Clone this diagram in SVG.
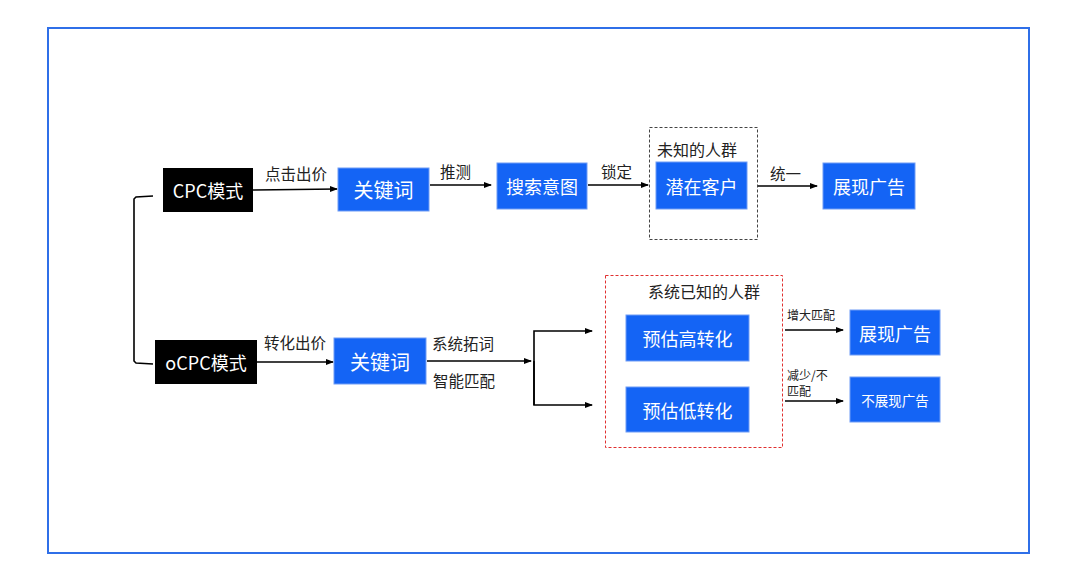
<svg xmlns="http://www.w3.org/2000/svg" width="1080" height="576" viewBox="0 0 1080 576">
<defs>
<marker id="ah" markerWidth="8" markerHeight="8" refX="7" refY="4" orient="auto" markerUnits="userSpaceOnUse">
<path d="M0,1 L8,4 L0,7 Z" fill="#000"/>
</marker>
<style>
text{font-family:"Microsoft YaHei","Noto Sans CJK SC","Noto Sans",sans-serif}
.blk{fill:#000}
.blu{fill:#1464f5;stroke:#6f9cf5;stroke-width:1}
.wt{fill:#fff;text-anchor:middle;dominant-baseline:central}
.lb{fill:#222;font-size:15.5px}
.gl{fill:#222;font-size:16px}
.sm{fill:#222;font-size:12px}
.ln{stroke:#000;stroke-width:1.6;fill:none}
.ar{stroke:#000;stroke-width:1.6;fill:none;marker-end:url(#ah)}
</style>
</defs>
<rect x="0" y="0" width="1080" height="576" fill="#fff"/>
<rect x="48" y="28" width="981" height="525" fill="none" stroke="#2f6fe8" stroke-width="2"/>

<g id="groupUnknown">
<rect x="649.5" y="127.5" width="108" height="112" fill="none" stroke="#444" stroke-width="1" stroke-dasharray="3,2"/>
<text x="657" y="156" class="gl">未知的人群</text>
</g>
<g id="groupKnown">
<rect x="605.5" y="275.5" width="177" height="172" fill="none" stroke="#e03030" stroke-width="1" stroke-dasharray="3,2"/>
<text x="648" y="298" class="gl">系统已知的人群</text>
</g>

<g id="connectors">
<path class="ln" d="M153,196 L136,197 L134,199 L134,361 L136,363 L153,364"/>
<path class="ar" d="M253,190 L337,189"/>
<text x="265" y="180" class="lb">点击出价</text>
<path class="ar" d="M430,185 L491,185"/>
<text x="440" y="178" class="lb">推测</text>
<path class="ar" d="M588,185 L648,185"/>
<text x="601" y="178" class="lb">锁定</text>
<path class="ar" d="M758,186 L817,186"/>
<text x="770" y="180" class="lb">统一</text>

<path class="ar" d="M257,362 L333,362"/>
<text x="264" y="349" class="lb">转化出价</text>
<path class="ar" d="M427,361 L531,361"/>
<text x="432" y="350" class="lb">系统拓词</text>
<text x="433" y="387" class="lb">智能匹配</text>
<path class="ar" d="M534,405 L534,331 L592,331"/>
<path class="ar" d="M534,361 L534,405 L592,405"/>
<path class="ar" d="M785,330 L843,330"/>
<text x="787" y="320" class="sm">增大匹配</text>
<path class="ar" d="M785,401 L843,401"/>
<text x="787" y="380" class="sm">减少/不</text>
<text x="787" y="396" class="sm">匹配</text>
</g>

<g id="cpc"><rect x="163" y="168" width="90" height="44" class="blk"/><text x="208" y="190" class="wt" font-size="18">CPC模式</text></g>
<g id="kw1"><rect x="338" y="168" width="91" height="43" class="blu"/><text x="383.5" y="189.5" class="wt" font-size="20">关键词</text></g>
<g id="intent"><rect x="497" y="163" width="90" height="46" class="blu"/><text x="542" y="186" class="wt" font-size="18">搜索意图</text></g>
<g id="potential"><rect x="656" y="162" width="91" height="47" class="blu"/><text x="701.5" y="185.5" class="wt" font-size="18">潜在客户</text></g>
<g id="show1"><rect x="823" y="163" width="92" height="46" class="blu"/><text x="869" y="186" class="wt" font-size="18">展现广告</text></g>

<g id="ocpc"><rect x="155" y="340" width="102" height="44" class="blk"/><text x="206" y="362" class="wt" font-size="18">oCPC模式</text></g>
<g id="kw2"><rect x="334" y="338" width="92" height="46" class="blu"/><text x="380" y="361" class="wt" font-size="20">关键词</text></g>
<g id="high"><rect x="626" y="315" width="123" height="46" class="blu"/><text x="687.5" y="338" class="wt" font-size="18">预估高转化</text></g>
<g id="low"><rect x="626" y="387" width="123" height="45" class="blu"/><text x="687.5" y="409.5" class="wt" font-size="18">预估低转化</text></g>
<g id="show2"><rect x="850" y="310" width="90" height="45" class="blu"/><text x="895" y="332.5" class="wt" font-size="18">展现广告</text></g>
<g id="noshow"><rect x="850" y="377" width="90" height="45" class="blu"/><text x="895" y="399.5" class="wt" font-size="13.5">不展现广告</text></g>
</svg>
